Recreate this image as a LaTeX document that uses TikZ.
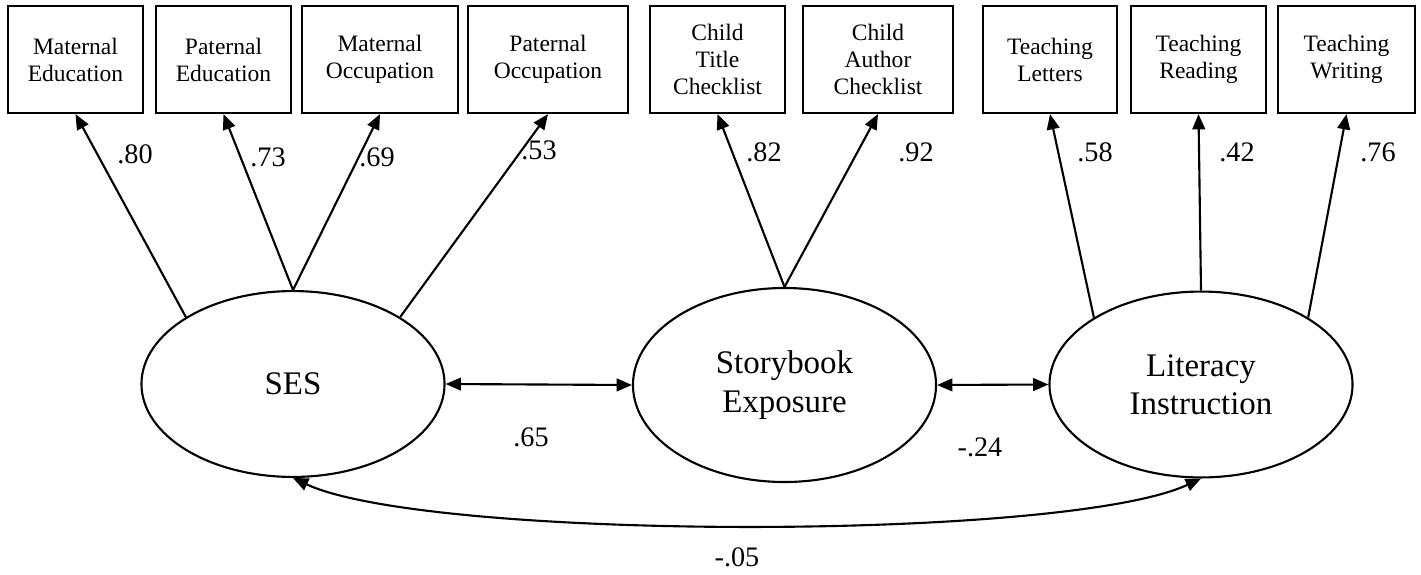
\documentclass[tikz,border=0pt]{standalone}
\usepackage{fontspec}
\setmainfont{Liberation Serif}
\usetikzlibrary{arrows.meta,shapes.geometric}

\tikzset{
  obs/.style={draw, line width=0.9pt, minimum height=45.5pt, inner sep=0pt,
              align=center, font=\fontsize{10}{11.5}\selectfont},
  latent/.style={draw, ellipse, line width=0.9pt, minimum width=128.8pt,
                 minimum height=79pt, inner sep=0pt, align=center,
                 font=\fontsize{14}{16.3}\selectfont},
  load/.style={-{Triangle[length=6.5pt,width=5.4pt]}, line width=0.9pt},
  cov/.style={{Triangle[length=6.5pt,width=5.4pt]}-{Triangle[length=6.5pt,width=5.4pt]}, line width=0.9pt},
  coef/.style={font=\fontsize{12}{14}\selectfont, inner sep=0pt}
}

\begin{document}
\begin{tikzpicture}[x=0.425pt, y=-0.425pt] % one unit = one pixel of the layout
\def\px{0.425pt} % size of one unit
\def\by{59.5} % y of the indicator boxes

\useasboundingbox (0,0) rectangle (1421,574);

% indicators
\node[obs, minimum width=135*\px] (matedu) at (75.5,\by) {Maternal\\Education};
\node[obs, minimum width=135*\px] (patedu) at (223.5,\by) {Paternal\\Education};
\node[obs, minimum width=156*\px] (matocc) at (380,\by) {Maternal\\Occupation};
\node[obs, minimum width=160*\px] (patocc) at (548,\by) {Paternal\\Occupation};
\node[obs, minimum width=135*\px] (title) at (717.5,\by) {Child\\Title\\Checklist};
\node[obs, minimum width=150*\px] (author) at (878,\by) {Child\\Author\\Checklist};
\node[obs, minimum width=134*\px] (letters) at (1050,\by) {Teaching\\Letters};
\node[obs, minimum width=135*\px] (reading) at (1198.5,\by) {Teaching\\Reading};
\node[obs, minimum width=137*\px] (writing) at (1346.5,\by) {Teaching\\Writing};

% latent variables
\node[latent] (ses) at (293,384) {SES};
\node[latent, minimum height=194*\px] (story) at (784.5,385) {Storybook\\Exposure};
\node[latent] (lit) at (1201,384.5) {Literacy\\Instruction};

% loadings
\draw[load] (ses.148) -- (matedu.south);
\draw[load] (ses.north) -- (patedu.south);
\draw[load] (ses.north) -- (matocc.south);
\draw[load] (ses.32) -- (patocc.south);
\draw[load] (story.north) -- (title.south);
\draw[load] (story.north) -- (author.south);
\draw[load] (lit.148) -- (letters.south);
\draw[load] (lit.north) -- (reading.south);
\draw[load] (lit.32) -- (writing.south);

\node[coef] (l1) at (135,154) {.80};
\node[coef] (l2) at (268,157) {.73};
\node[coef] (l3) at (377,157) {.69};
\node[coef] (l4) at (539,150) {.53};
\node[coef] (l5) at (764,152) {.82};
\node[coef] (l6) at (916,152) {.92};
\node[coef] (l7) at (1095,152) {.58};
\node[coef] (l8) at (1237,152) {.42};
\node[coef] (l9) at (1378,152) {.76};

% covariances
\draw[cov] (ses.east) -- (story.west);
\draw[cov] (story.east) -- (lit.west);
\draw[cov] (ses.south) to[out=-25, in=-155, looseness=0.42] (lit.south);

\node[coef] (c1) at (531,437) {.65};
\node[coef] (c2) at (980,447) {-.24};
\node[coef] (c3) at (737,557) {-.05};

\end{tikzpicture}
\end{document}
